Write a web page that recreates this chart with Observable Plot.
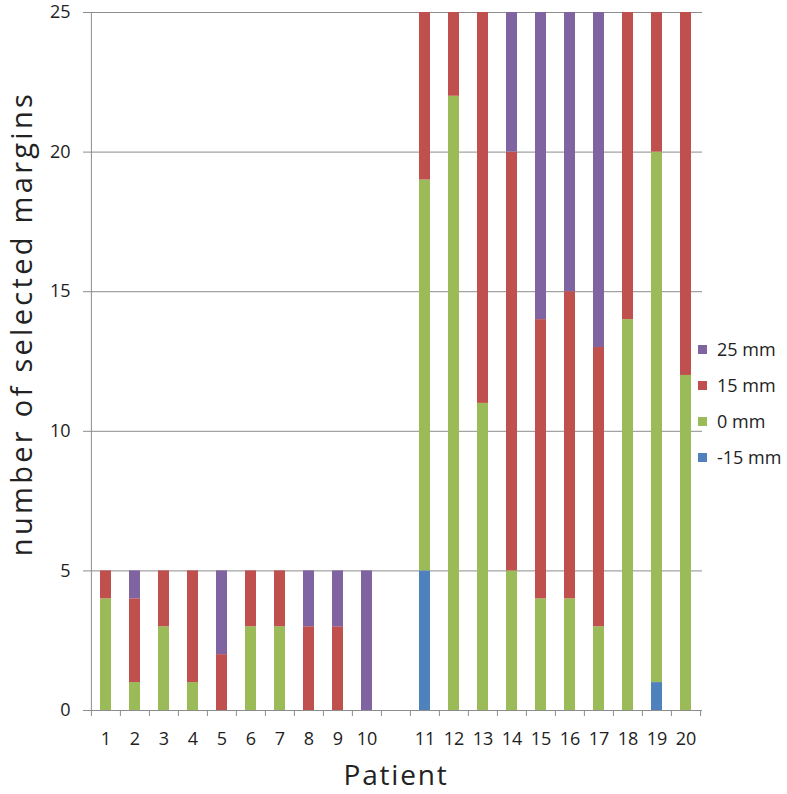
<!DOCTYPE html>
<html>
<head>
<meta charset="utf-8">
<script src="https://cdn.jsdelivr.net/npm/d3@7"></script>
<script src="https://cdn.jsdelivr.net/npm/@observablehq/plot@0.6"></script>
<style>
  html, body { margin: 0; padding: 0; background: #fff; }
  #wrap { position: relative; width: 787px; height: 794px; font-family: "Open Sans", sans-serif; }
  #legend { position: absolute; left: 698px; top: 331px; font-size: 18px; color: #222; }
  #legend div { display: flex; align-items: center; height: 36px; }
  #legend span.sw { display: inline-block; width: 9px; height: 9px; margin-right: 10px; }
</style>
</head>
<body>
<div id="wrap"><div id="chart"></div><div id="legend"></div></div>
<script>
const patients = ["1","2","3","4","5","6","7","8","9","10"," ","11","12","13","14","15","16","17","18","19","20"];
const margins = ["-15 mm","0 mm","15 mm","25 mm"];
const colors = ["#4F81BD","#9BBB59","#C0504D","#8064A2"];
const yTicks = [0, 5, 10, 15, 20, 25];
// counts per patient, per margin
const minus15 = [0,0,0,0,0,0,0,0,0,0, 5,0,0,0,0,0,0,0,1,0];
const zero    = [4,1,3,1,0,3,3,0,0,0, 14,22,11,5,4,4,3,14,19,12];
const plus15  = [1,3,2,4,2,2,2,3,3,0, 6,3,14,15,10,11,10,11,5,13];
const plus25  = [0,1,0,0,3,0,0,2,2,5, 0,0,0,5,11,10,12,0,0,0];
const series = [minus15, zero, plus15, plus25];
const realPatients = patients.filter(p => p.trim() !== "");
const xLabel = "Patient";
const yLabel = "number of selected margins";

const data = [];
realPatients.forEach((p, i) => {
  series.forEach((s, k) => {
    if (s[i] > 0) data.push({patient: p, margin: margins[k], count: s[i]});
  });
});

const W = 787, H = 794, mL = 89, mR = 85, mT = 12, mB = 84;
const bw = (W - mL - mR) / patients.length;
const gray = "#8c8c8c";

const chart = Plot.plot({
  width: W, height: H,
  marginLeft: mL, marginRight: mR, marginTop: mT, marginBottom: mB,
  style: {fontFamily: "'Open Sans', sans-serif", fontSize: "18px", color: "#222", background: "#fff", overflow: "visible"},
  x: {domain: patients, paddingInner: 0.62, paddingOuter: 0.31, align: 0.5, label: null},
  y: {domain: [0, 25], label: null},
  color: {domain: margins, range: colors},
  marks: [
    Plot.gridY(yTicks, {stroke: gray, strokeOpacity: 1, strokeWidth: 1}),
    Plot.barY(data, Plot.stackY({x: "patient", y: "count", fill: "margin", order: margins})),
    Plot.ruleY([0], {stroke: gray}),
    Plot.ruleX([patients[0]], {dx: -bw / 2, stroke: gray}),
    Plot.axisY(yTicks, {tickSize: 6, tickPadding: 13, stroke: gray, fontSize: 18, label: null}),
    Plot.axisX(patients, {tickSize: 0, tickPadding: 22, fontSize: 18, label: null}),
    Plot.axisX(patients, {tickSize: 6, dx: -bw / 2, stroke: gray, tickFormat: () => "", label: null}),
    Plot.axisX([patients[patients.length - 1]], {tickSize: 6, dx: bw / 2, stroke: gray, tickFormat: () => "", label: null}),
    Plot.text([xLabel], {frameAnchor: "bottom", dy: 66, fontSize: 28, fill: "#222", lineAnchor: "middle"}),
    Plot.text([yLabel], {frameAnchor: "left", textAnchor: "middle", dx: -67, dy: -38, rotate: -90, fontSize: 29, fill: "#222", lineAnchor: "middle"})
  ]
});
d3.select(chart).selectAll("text").each(function() {
  const t = this.textContent;
  if (t === xLabel) this.style.letterSpacing = "1.8px";
  if (t === yLabel) this.style.letterSpacing = "3.3px";
});
document.getElementById("chart").appendChild(chart);

const legend = document.getElementById("legend");
for (let k = margins.length - 1; k >= 0; k--) {
  const row = document.createElement("div");
  row.innerHTML = `<span class="sw" style="background:${colors[k]}"></span>${margins[k]}`;
  legend.appendChild(row);
}
</script>
</body>
</html>
